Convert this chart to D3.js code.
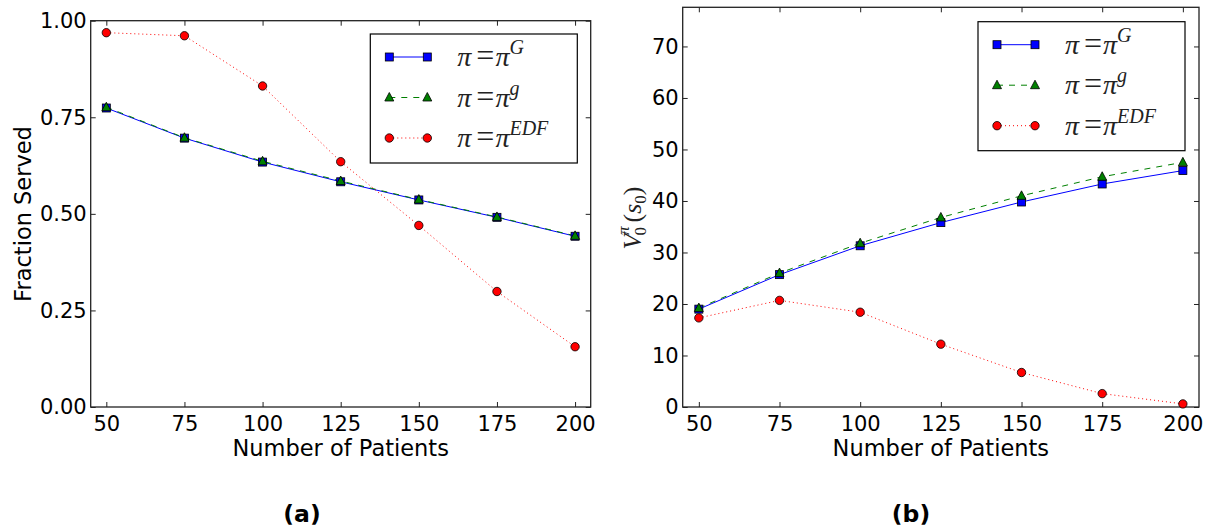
<!DOCTYPE html>
<html>
<head>
<meta charset="utf-8">
<script src="https://cdn.jsdelivr.net/npm/d3@7"></script>
<style>
  body { margin: 0; background: #fff; }
</style>
</head>
<body>
<script>
var patients = [50, 75, 100, 125, 150, 175, 200];

// panel (a): fraction served
var servedG   = [0.774, 0.696, 0.634, 0.583, 0.536, 0.491, 0.442];
var servedg   = [0.776, 0.697, 0.636, 0.585, 0.537, 0.492, 0.443];
var servedEDF = [0.969, 0.961, 0.831, 0.635, 0.470, 0.299, 0.156];

// panel (b): value function
var valueG   = [19.0, 25.7, 31.3, 35.8, 39.8, 43.3, 45.9];
var valueg   = [19.2, 26.0, 31.8, 36.8, 41.0, 44.7, 47.5];
var valueEDF = [17.3, 20.7, 18.4, 12.2, 6.7, 2.6, 0.6];

var xTicks = [50, 75, 100, 125, 150, 175, 200];
var yTicksA = [0, 0.25, 0.5, 0.75, 1.0];
var yTicksB = [0, 10, 20, 30, 40, 50, 60, 70];

var legendSups = ['G', 'g', 'EDF'];

var width = 1211, height = 531;
var mathFont = '"Liberation Serif", "Times New Roman", serif';

var svg = d3.select('body')
  .append('svg')
  .attr('width', width)
  .attr('height', height)
  .attr('font-family', 'DejaVu Sans');

var styles = [
  {color: '#0000ff', dash: null, marker: 'square'},
  {color: '#008000', dash: '6,6', marker: 'triangle'},
  {color: '#ff0000', dash: '1,3', marker: 'circle'}
];

function drawMarker(g, type, cx, cy, fill) {
  if (type == 'square') {
    g.append('rect').attr('x', cx - 4).attr('y', cy - 4)
      .attr('width', 8).attr('height', 8)
      .attr('fill', fill).attr('stroke', '#000').attr('stroke-width', 0.8);
  } else if (type == 'triangle') {
    g.append('path')
      .attr('d', 'M' + cx + ',' + (cy - 5) + 'L' + (cx + 4.5) + ',' + (cy + 3.5) + 'L' + (cx - 4.5) + ',' + (cy + 3.5) + 'Z')
      .attr('fill', fill).attr('stroke', '#000').attr('stroke-width', 0.8);
  } else {
    g.append('circle').attr('cx', cx).attr('cy', cy).attr('r', 4.2)
      .attr('fill', fill).attr('stroke', '#000').attr('stroke-width', 0.8);
  }
}

function panel(opt) {
  var x = d3.scaleLinear().domain([45, 205]).range([opt.left, opt.right]);
  var y = d3.scaleLinear().domain(opt.ydomain).range([opt.bottom, opt.top]);
  var grp = svg.append('g');

  // ticks, inside, on all four sides
  var xAxis = d3.axisBottom(x).tickValues(xTicks).tickSize(-5).tickPadding(8).tickFormat(d3.format('d'));
  var yAxis = d3.axisLeft(y).tickValues(opt.yticks).tickSize(-5).tickPadding(4).tickFormat(opt.yformat);

  var gx = grp.append('g').attr('transform', 'translate(0,' + opt.bottom + ')').call(xAxis);
  var gy = grp.append('g').attr('transform', 'translate(' + opt.left + ',0)').call(yAxis);
  grp.append('g').attr('transform', 'translate(0,' + opt.top + ')')
    .call(d3.axisTop(x).tickValues(xTicks).tickSize(-5).tickFormat(''));
  grp.append('g').attr('transform', 'translate(' + opt.right + ',0)')
    .call(d3.axisRight(y).tickValues(opt.yticks).tickSize(-5).tickFormat(''));

  grp.selectAll('.domain').remove();
  grp.selectAll('.tick line').attr('stroke', '#222').attr('stroke-width', 1);
  gx.selectAll('text').attr('font-size', 21).attr('font-family', 'DejaVu Sans').attr('fill', '#000').attr('dy', '0.75em');
  gy.selectAll('text').attr('font-size', 21).attr('font-family', 'DejaVu Sans').attr('fill', '#000');

  grp.append('rect')
    .attr('x', opt.left).attr('y', opt.top)
    .attr('width', opt.right - opt.left).attr('height', opt.bottom - opt.top)
    .attr('fill', 'none').attr('stroke', '#222').attr('stroke-width', 1.3);

  // series
  var line = d3.line()
    .x(function(d, i) { return x(patients[i]); })
    .y(function(d) { return y(d); });

  opt.series.forEach(function(s, k) {
    var st = styles[k];
    grp.append('path')
      .attr('d', line(s))
      .attr('fill', 'none')
      .attr('stroke', st.color)
      .attr('stroke-width', 1)
      .attr('stroke-dasharray', st.dash);
  });
  opt.series.forEach(function(s, k) {
    var st = styles[k];
    s.forEach(function(d, i) {
      drawMarker(grp, st.marker, x(patients[i]), y(d), st.color);
    });
  });

  // x label
  grp.append('text')
    .attr('x', (opt.left + opt.right) / 2)
    .attr('y', opt.bottom + 49)
    .attr('text-anchor', 'middle')
    .attr('font-size', 22.5)
    .text('Number of Patients');

  // legend
  var lx = opt.right - opt.legendRight - 207;
  var ly = opt.top + opt.legendTop;
  var lg = grp.append('g').attr('transform', 'translate(' + lx + ',' + ly + ')');
  lg.append('rect').attr('width', 207).attr('height', 129)
    .attr('fill', '#fff').attr('stroke', '#000').attr('stroke-width', 1.2);
  legendSups.forEach(function(sup, k) {
    var st = styles[k];
    var ry = 23 + k * 40.5;
    lg.append('line').attr('x1', 19).attr('x2', 57).attr('y1', ry).attr('y2', ry)
      .attr('stroke', st.color).attr('stroke-width', 1).attr('stroke-dasharray', st.dash);
    drawMarker(lg, st.marker, 19, ry, st.color);
    drawMarker(lg, st.marker, 57, ry, st.color);
    var t = lg.append('text').attr('x', 87).attr('y', ry + 9)
      .attr('font-family', mathFont).attr('font-size', 28).attr('fill', '#222');
    t.append('tspan').attr('font-style', 'italic').text('\u03c0');
    t.append('tspan').attr('dx', 5).attr('font-size', 32).text('=');
    t.append('tspan').attr('font-style', 'italic').attr('dx', 1).text('\u03c0');
    t.append('tspan').attr('font-style', 'italic').attr('font-size', 20).attr('dy', -12).text(sup);
  });

  // caption
  svg.append('text')
    .attr('x', opt.caption)
    .attr('y', 522)
    .attr('text-anchor', 'middle')
    .attr('font-size', 23.5)
    .attr('font-weight', 'bold')
    .text(opt.captionText);

  return grp;
}

var pa = panel({
  left: 90.7, right: 590.7, top: 20.7, bottom: 407,
  ydomain: [0, 1], yticks: yTicksA, yformat: d3.format('.2f'),
  series: [servedG, servedg, servedEDF],
  legendRight: 13.4, legendTop: 13.3,
  caption: 302, captionText: '(a)'
});

pa.append('text')
  .attr('transform', 'translate(31,214) rotate(-90)')
  .attr('text-anchor', 'middle')
  .attr('font-size', 22.5)
  .text('Fraction Served');

var pb = panel({
  left: 682.7, right: 1199, top: 7.3, bottom: 407,
  ydomain: [0, 77.6], yticks: yTicksB, yformat: d3.format('d'),
  series: [valueG, valueg, valueEDF],
  legendRight: 14, legendTop: 14.4,
  caption: 911, captionText: '(b)'
});

var yl = pb.append('text')
  .attr('transform', 'translate(641,218) rotate(-90)')
  .attr('text-anchor', 'middle')
  .attr('font-family', mathFont)
  .attr('font-size', 26)
  .attr('fill', '#222');
yl.append('tspan').attr('font-style', 'italic').text('V');
yl.append('tspan').attr('font-size', 17).attr('dx', -2).attr('dy', 5).text('0');
yl.append('tspan').attr('font-style', 'italic').attr('font-size', 17).attr('dx', -8).attr('dy', -17).text('\u03c0');
yl.append('tspan').attr('dx', 4).attr('dy', 12).text('(');
yl.append('tspan').attr('font-style', 'italic').text('s');
yl.append('tspan').attr('font-size', 17).attr('dy', 5).text('0');
yl.append('tspan').attr('dy', -5).text(')');
</script>
</body>
</html>
